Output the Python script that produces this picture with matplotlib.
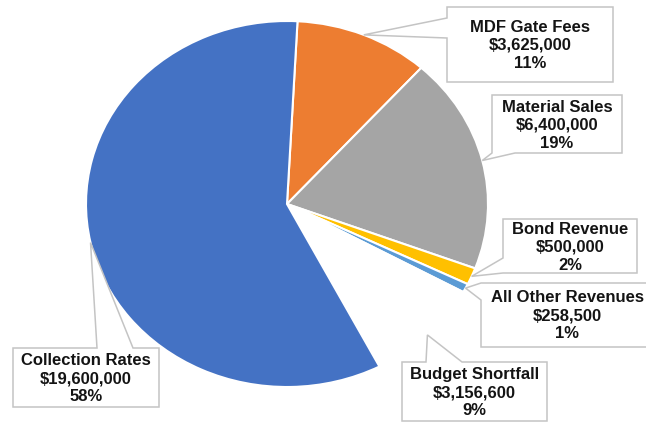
import matplotlib
matplotlib.use("Agg")
import matplotlib.pyplot as plt
from matplotlib.patches import Polygon
import numpy as np

# ---- data ----
categories = ["MDF Gate Fees", "Material Sales", "Bond Revenue",
              "All Other Revenues", "Budget Shortfall", "Collection Rates"]
values = [3625000, 6400000, 500000, 258500, 3156600, 19600000]
pct_labels = ["11%", "19%", "2%", "1%", "9%", "58%"]
colors = ["#ED7D31", "#A5A5A5", "#FFC000", "#5B9BD5", "#FFFFFF", "#4472C4"]

# ---- layout (pixel coordinates, y down) ----
W, H = 646, 423
cx, cy, rx, ry = 287, 204, 201, 183
# box: x0, y0, x1, y1, side, a, b
boxes = [
    (447, 7, 613, 82, "left", 18, 38),
    (492, 95, 622, 153, "bottom", 492, 515),
    (503, 219, 637, 273, "left", 258, 273),
    (481, 283, 654, 347, "left", 283, 300),
    (402, 362, 547, 421, "top", 426, 462),
    (13, 348, 159, 407, "top", 97, 133),
]

fig = plt.figure(figsize=(W / 100, H / 100), dpi=100)
fig.patch.set_facecolor("white")

ax_p = fig.add_axes([(cx - rx) / W, (H - cy - ry) / H, 2 * rx / W, 2 * ry / H])
wedges, _ = ax_p.pie(values, colors=colors, startangle=87, counterclock=False,
                     radius=1.0, wedgeprops=dict(edgecolor="white", linewidth=1.5))
ax_p.set_aspect("auto")
ax_p.set_xlim(-1, 1)
ax_p.set_ylim(-1, 1)
ax_p.axis("off")

ax_o = fig.add_axes([0, 0, 1, 1])
ax_o.set_xlim(0, W)
ax_o.set_ylim(H, 0)
ax_o.axis("off")

to_o = ax_p.transData + ax_o.transData.inverted()

for i, (w, box) in enumerate(zip(wedges, boxes)):
    mid = np.deg2rad((w.theta1 + w.theta2) / 2)
    tip = tuple(to_o.transform((np.cos(mid), np.sin(mid))))
    x0, y0, x1, y1, side, a, b = box
    TL, TR, BR, BL = (x0, y0), (x1, y0), (x1, y1), (x0, y1)
    if side == "left":
        verts = [TL, TR, BR, BL, (x0, b), tip, (x0, a)]
    elif side == "top":
        verts = [TL, (a, y0), tip, (b, y0), TR, BR, BL]
    else:
        verts = [TL, TR, BR, (b, y1), tip, (a, y1), BL]
    ax_o.add_patch(Polygon(verts, closed=True, facecolor="white",
                           edgecolor="#c4c4c4", linewidth=1.1, zorder=2))
    txt = f"{categories[i]}\n${values[i]:,.0f}\n{pct_labels[i]}"
    ax_o.text((x0 + x1) / 2, (y0 + y1) / 2 + 1, txt, ha="center", va="center",
              multialignment="center", fontsize=12, fontweight="bold",
              family=["Liberation Sans", "DejaVu Sans"], color="#141414",
              linespacing=1.25, zorder=3)

fig.savefig("out.png", dpi=100, facecolor="white")
